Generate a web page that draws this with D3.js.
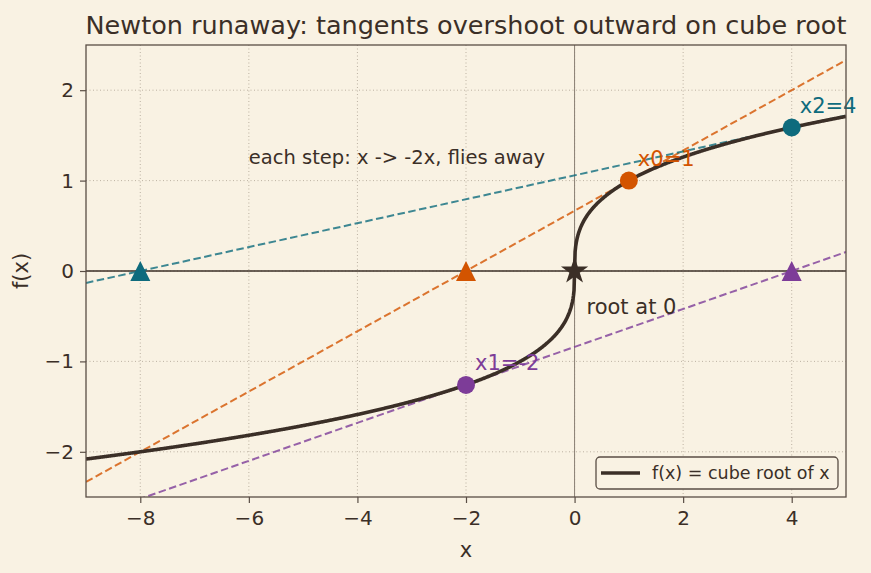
<!DOCTYPE html>
<html>
<head>
<meta charset="utf-8">
<script src="https://cdn.jsdelivr.net/npm/d3@7"></script>
<style>
  body { margin: 0; background: #f9f2e3; }
  svg { display: block; font-family: "DejaVu Sans", sans-serif; }
</style>
</head>
<body>
<script>
let width = 871
let height = 573
let margin = {top: 45, right: 25, bottom: 76, left: 86}

let xDomain = [-9, 5]
let yDomain = [-2.5, 2.5]
let xTicks = [-8, -6, -4, -2, 0, 2, 4]
let yTicks = [-2, -1, 0, 1, 2]

// newton iterates on f(x) = cbrt(x): each step x -> -2x
let iterX = [1, -2, 4]
let iterNames = ['x0=1', 'x1=-2', 'x2=4']
let iterColors = ['#d35400', '#7d3c98', '#0e6b7d']
let labelOffsets = [[9, -15], [9, -15], [8, -14]]

let ink = '#3b2f27'

let f = x => Math.cbrt(x)
let df = x => 1 / (3 * Math.pow(Math.abs(x), 2 / 3))

let xScale = d3.scaleLinear().domain(xDomain).range([margin.left, width - margin.right])
let yScale = d3.scaleLinear().domain(yDomain).range([height - margin.bottom, margin.top])

let svg = d3.select('body').append('svg')
    .attr('width', width)
    .attr('height', height)

svg.append('defs').append('clipPath').attr('id', 'clip')
    .append('rect')
    .attr('x', margin.left).attr('y', margin.top)
    .attr('width', width - margin.left - margin.right)
    .attr('height', height - margin.top - margin.bottom)

// grid
let grid = svg.append('g')
grid.selectAll('.gx').data(xTicks).enter().append('line')
    .attr('x1', d => xScale(d)).attr('x2', d => xScale(d))
    .attr('y1', margin.top).attr('y2', height - margin.bottom)
    .attr('stroke', '#b5aa9b').attr('stroke-width', 0.9).attr('stroke-dasharray', '1,2.5')
grid.selectAll('.gy').data(yTicks).enter().append('line')
    .attr('y1', d => yScale(d)).attr('y2', d => yScale(d))
    .attr('x1', margin.left).attr('x2', width - margin.right)
    .attr('stroke', '#b5aa9b').attr('stroke-width', 0.9).attr('stroke-dasharray', '1,2.5')

let plot = svg.append('g').attr('clip-path', 'url(#clip)')

// reference lines
plot.append('line')
    .attr('x1', margin.left).attr('x2', width - margin.right)
    .attr('y1', yScale(0)).attr('y2', yScale(0))
    .attr('stroke', ink).attr('stroke-width', 1.4)
plot.append('line')
    .attr('x1', xScale(0)).attr('x2', xScale(0))
    .attr('y1', margin.top).attr('y2', height - margin.bottom)
    .attr('stroke', '#8a7f74').attr('stroke-width', 1)

// tangent lines
iterX.forEach((x0, k) => {
    let m = df(x0)
    let y0 = f(x0)
    plot.append('line')
        .attr('x1', xScale(xDomain[0])).attr('y1', yScale(y0 + m * (xDomain[0] - x0)))
        .attr('x2', xScale(xDomain[1])).attr('y2', yScale(y0 + m * (xDomain[1] - x0)))
        .attr('stroke', iterColors[k]).attr('stroke-opacity', 0.8)
        .attr('stroke-width', 2).attr('stroke-dasharray', '7.5,3.5')
})

// curve
let curveX = d3.range(-9, 5.0001, 0.01)
curveX.splice(curveX.findIndex(v => v > 0), 0, 0)
let line = d3.line().x(d => xScale(d)).y(d => yScale(f(d)))
plot.append('path')
    .datum(curveX)
    .attr('d', line)
    .attr('fill', 'none')
    .attr('stroke', ink)
    .attr('stroke-width', 3.6)

// matplotlib-style '^' marker, centred on its box
let triangle = {
    draw(ctx, size) {
        let h = Math.sqrt(size)
        ctx.moveTo(0, -h / 2)
        ctx.lineTo(h / 2, h / 2)
        ctx.lineTo(-h / 2, h / 2)
        ctx.closePath()
    }
}

// iterate points and their x-intercepts
iterX.forEach((x0, k) => {
    svg.append('circle')
        .attr('cx', xScale(x0)).attr('cy', yScale(f(x0)))
        .attr('r', 9).attr('fill', iterColors[k])
    let next = x0 - f(x0) / df(x0)
    svg.append('path')
        .attr('d', d3.symbol().type(triangle).size(400)())
        .attr('transform', `translate(${xScale(next)},${yScale(0)})`)
        .attr('fill', iterColors[k])
    svg.append('text')
        .attr('x', xScale(x0) + labelOffsets[k][0])
        .attr('y', yScale(f(x0)) + labelOffsets[k][1])
        .attr('fill', iterColors[k])
        .attr('font-size', 21)
        .text(iterNames[k])
})

// root star
svg.append('path')
    .attr('d', d3.symbol().type(d3.symbolStar).size(230)())
    .attr('transform', `translate(${xScale(0)},${yScale(0)})`)
    .attr('fill', ink)

svg.append('text')
    .attr('x', xScale(0.22)).attr('y', yScale(-0.48))
    .attr('fill', ink).attr('font-size', 21)
    .text('root at 0')
svg.append('text')
    .attr('x', xScale(-6)).attr('y', yScale(1.18))
    .attr('fill', ink).attr('font-size', 19.5)
    .text('each step: x -> -2x, flies away')

// axes
let fmt = d => d < 0 ? '\u2212' + Math.abs(d) : d
let xAxis = svg.append('g')
    .attr('transform', `translate(0,${height - margin.bottom})`)
    .call(d3.axisBottom(xScale).tickValues(xTicks).tickSize(6).tickPadding(8).tickFormat(fmt))
let yAxis = svg.append('g')
    .attr('transform', `translate(${margin.left},0)`)
    .call(d3.axisLeft(yScale).tickValues(yTicks).tickSize(6).tickPadding(6).tickFormat(fmt))
;[xAxis, yAxis].forEach(a => {
    a.select('.domain').remove()
    a.selectAll('line').attr('stroke', '#5a4e45').attr('stroke-width', 1.2)
    a.selectAll('text').attr('fill', ink).attr('font-size', 20)
        .attr('font-family', '"DejaVu Sans", sans-serif')
})

svg.append('rect')
    .attr('x', margin.left).attr('y', margin.top)
    .attr('width', width - margin.left - margin.right)
    .attr('height', height - margin.top - margin.bottom)
    .attr('fill', 'none').attr('stroke', '#5a4e45').attr('stroke-width', 1.3)

svg.append('text')
    .attr('x', (margin.left + width - margin.right) / 2).attr('y', 557)
    .attr('text-anchor', 'middle').attr('fill', ink).attr('font-size', 21)
    .text('x')
svg.append('text')
    .attr('transform', `translate(28,${(margin.top + height - margin.bottom) / 2}) rotate(-90)`)
    .attr('text-anchor', 'middle').attr('fill', ink).attr('font-size', 21)
    .text('f(x)')

svg.append('text')
    .attr('x', (margin.left + width - margin.right) / 2).attr('y', 34)
    .attr('text-anchor', 'middle').attr('fill', ink).attr('font-size', 25.5)
    .text('Newton runaway: tangents overshoot outward on cube root')

// legend
let legend = svg.append('g').attr('transform', 'translate(596,457)')
legend.append('rect')
    .attr('width', 242).attr('height', 32).attr('rx', 4)
    .attr('fill', '#f9f2e3').attr('stroke', '#5a4e45').attr('stroke-width', 1.3)
legend.append('line')
    .attr('x1', 5).attr('x2', 44).attr('y1', 16).attr('y2', 16)
    .attr('stroke', ink).attr('stroke-width', 3.6)
legend.append('text')
    .attr('x', 56).attr('y', 22).attr('fill', ink).attr('font-size', 17.5)
    .text('f(x) = cube root of x')
</script>
</body>
</html>
